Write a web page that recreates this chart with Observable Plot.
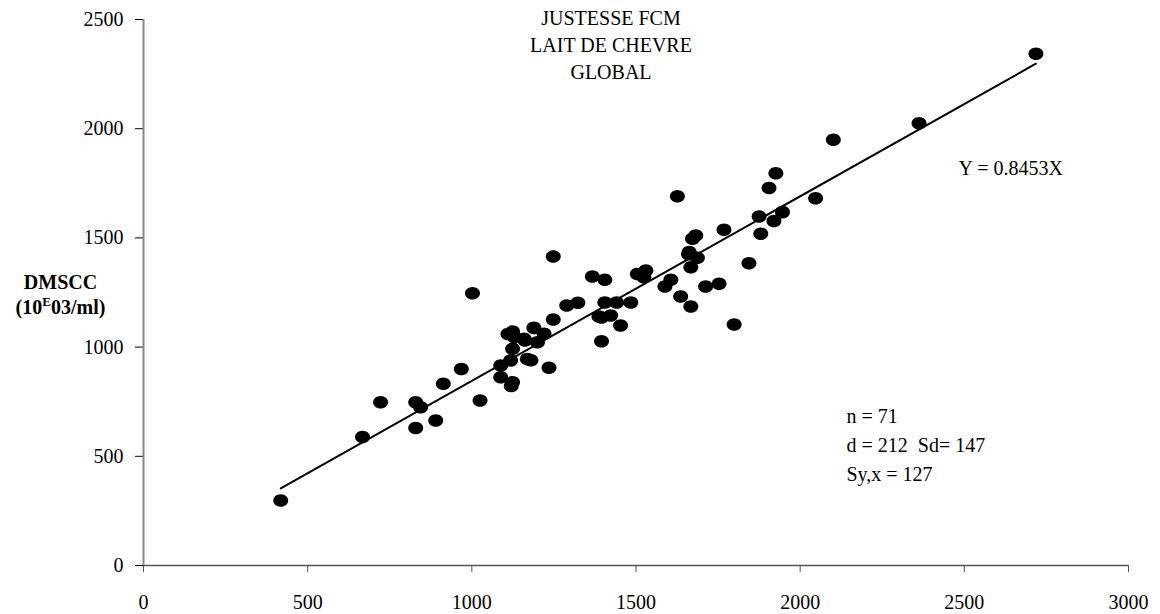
<!DOCTYPE html>
<html>
<head>
<meta charset="utf-8">
<script src="https://cdn.jsdelivr.net/npm/d3@7"></script>
<script src="https://cdn.jsdelivr.net/npm/@observablehq/plot@0.6"></script>
<style>
  html, body { margin: 0; padding: 0; background: #fff; }
  #chart { width: 1160px; height: 614px; }
</style>
</head>
<body>
<div id="chart"></div>
<script>
// ---- data (FCM reference x, DMSCC y) ----
const fcmValues = [418, 667, 722, 829, 829, 844, 890, 913, 968, 1002, 1025, 1088, 1088, 1118, 1124, 1120, 1124, 1124, 1130, 1159,
  1169, 1180, 1189, 1200, 1220, 1235, 1248, 1248, 1289, 1323, 1367, 1387, 1395, 1405, 1405, 1423, 1441, 1453, 1484, 1504,
  1524, 1530, 1588, 1606, 1626, 1636, 1662, 1667, 1667, 1672, 1682, 1687, 1712, 1753, 1768, 1799, 1844, 1875, 1880, 1905,
  1920, 1926, 1946, 2047, 2101, 2362, 2718, 1110, 1162, 1660, 1395];
const dmsccValues = [298, 588, 748, 630, 748, 725, 664, 832, 900, 1247, 755, 862, 916, 939, 839, 822, 992, 1071, 1045, 1038,
  946, 940, 1088, 1022, 1061, 905, 1126, 1415, 1190, 1203, 1323, 1140, 1027, 1308, 1204, 1145, 1204, 1099, 1204, 1335,
  1320, 1351, 1277, 1308, 1691, 1232, 1435, 1366, 1186, 1496, 1511, 1409, 1277, 1290, 1537, 1103, 1384, 1598, 1519, 1729,
  1577, 1796, 1618, 1682, 1949, 2025, 2343, 1060, 1030, 1425, 1135];
const slope = 0.8453;
const xTicks = [0, 500, 1000, 1500, 2000, 2500, 3000];
const yTicks = [0, 500, 1000, 1500, 2000, 2500];
const titleLines = ["JUSTESSE FCM", "LAIT DE CHEVRE", "GLOBAL"];
const equationText = "Y = 0.8453X";
const statsLines = ["n = 71", "d = 212  Sd= 147", "Sy,x = 127"];
const yLabelLine1 = "DMSCC";
const yLabelLine2 = "(10E03/ml)";

const points = fcmValues.map((x, i) => ({x, y: dmsccValues[i]}));
const xExtent = d3.extent(fcmValues);
const fitLine = xExtent.map(x => ({x, y: slope * x}));

// ellipse-shaped marker
const ellipse = {
  draw(ctx, size) {
    const r = Math.sqrt(size / Math.PI);
    const rx = r * 1.1, ry = r * 0.92, k = 0.5523;
    ctx.moveTo(rx, 0);
    ctx.bezierCurveTo(rx, ry * k, rx * k, ry, 0, ry);
    ctx.bezierCurveTo(-rx * k, ry, -rx, ry * k, -rx, 0);
    ctx.bezierCurveTo(-rx, -ry * k, -rx * k, -ry, 0, -ry);
    ctx.bezierCurveTo(rx * k, -ry, rx, -ry * k, rx, 0);
    ctx.closePath();
  }
};

const W = 1160, H = 614;
const mL = 143, mR = 32, mT = 19, mB = 49;

const chart = Plot.plot({
  width: W,
  height: H,
  marginLeft: mL,
  marginRight: mR,
  marginTop: mT,
  marginBottom: mB,
  style: {fontFamily: "'Liberation Serif', 'Times New Roman', serif", fontSize: "20px", background: "#fff", color: "#000"},
  x: {domain: [0, 3000]},
  y: {domain: [0, 2500]},
  marks: [
    Plot.axisX({ticks: xTicks, tickSize: 7, tickPadding: 22, tickFormat: d => String(d), label: null, stroke: "#555", fill: "#000"}),
    Plot.axisY({ticks: yTicks, tickSize: 8, tickPadding: 12, tickFormat: d => String(d), label: null, stroke: "#000", fill: "#000"}),
    Plot.ruleY([0], {stroke: "#555", strokeWidth: 1.5}),
    Plot.ruleX([0], {stroke: "#888", strokeWidth: 2}),
    Plot.line(fitLine, {x: "x", y: "y", stroke: "#000", strokeWidth: 2}),
    Plot.dot(points, {x: "x", y: "y", r: 6.8, symbol: ellipse, fill: "#000", stroke: "none"}),
    Plot.text([titleLines.join("\n")], {frameAnchor: "top", dx: -25, dy: 24, lineAnchor: "middle", lineHeight: 1.35, textAnchor: "middle", fill: "#000"}),
    Plot.text([equationText], {frameAnchor: "top-right", dx: -170, dy: 149, lineAnchor: "middle", textAnchor: "start", fill: "#000"}),
    Plot.text([statsLines.join("\n")], {frameAnchor: "top-right", dx: -282, dy: 423, lineAnchor: "middle", lineHeight: 1.45, textAnchor: "start", fill: "#000"}),
    Plot.text([yLabelLine1], {frameAnchor: "left", dx: -83, dy: -10, lineAnchor: "middle", textAnchor: "middle", fontWeight: "bold", fill: "#000"}),
    Plot.text([yLabelLine2], {frameAnchor: "left", dx: -83, dy: 15, lineAnchor: "middle", textAnchor: "middle", fontWeight: "bold", fill: "#000"})
  ]
});

// superscript "E" in the y label
d3.select(chart).selectAll("text").each(function() {
  if (this.textContent === yLabelLine2) {
    const t = d3.select(this);
    t.text(null);
    t.append("tspan").text("(10");
    t.append("tspan").attr("dy", "-8").attr("font-size", "13px").text("E");
    t.append("tspan").attr("dy", "8").text("03/ml)");
  }
});

document.getElementById("chart").appendChild(chart);
</script>
</body>
</html>
